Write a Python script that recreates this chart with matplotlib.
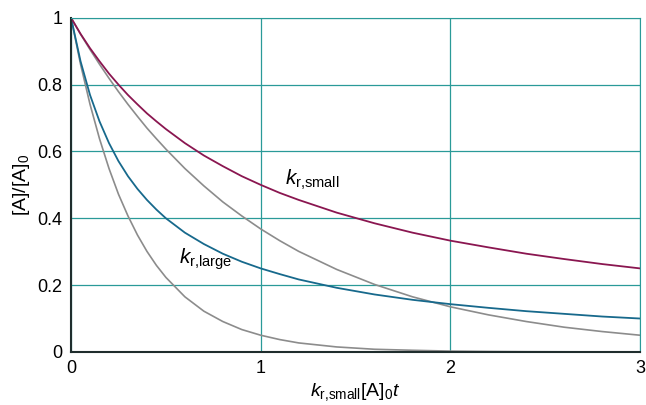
import matplotlib.pyplot as plt
import matplotlib as mpl

mpl.rcParams['font.family'] = ['Liberation Sans', 'DejaVu Sans']
mpl.rcParams['mathtext.fontset'] = 'custom'
mpl.rcParams['mathtext.rm'] = 'Liberation Sans'
mpl.rcParams['mathtext.it'] = 'Liberation Sans:italic'

# time axis (k_r,small [A]0 t)
t = [0, 0.05, 0.1, 0.15, 0.2, 0.25, 0.3, 0.35, 0.4, 0.45, 0.5, 0.6, 0.7, 0.8, 0.9, 1.0,
     1.1, 1.2, 1.4, 1.6, 1.8, 2.0, 2.2, 2.4, 2.6, 2.8, 3.0]
# second order, small k (purple)
a_small = [1, .952, .909, .870, .833, .800, .769, .741, .714, .690, .667, .625, .588, .556, .526, .500,
           .476, .455, .417, .385, .357, .333, .313, .294, .278, .263, .250]
# second order, large k (blue)
a_large = [1, .870, .769, .690, .625, .571, .526, .488, .455, .426, .400, .357, .323, .294, .270, .250,
           .233, .217, .192, .172, .156, .143, .132, .122, .114, .106, .100]
# first order comparison curves (grey)
g_slow = [1, .951, .905, .861, .819, .779, .741, .705, .670, .638, .607, .549, .497, .449, .407, .368,
          .333, .301, .247, .202, .165, .135, .111, .091, .074, .061, .050]
g_fast = [1, .861, .741, .638, .549, .472, .407, .350, .301, .259, .223, .165, .122, .091, .067, .050,
          .037, .027, .015, .008, .005, .0025, .0014, .0007, .0004, .0002, .0001]

xticks = [0, 1, 2, 3]
yticks = [0, 0.2, 0.4, 0.6, 0.8, 1]
ytick_labels = ['0', '0.2', '0.4', '0.6', '0.8', '1']

teal = '#2a9a98'
fig = plt.figure(figsize=(6.46, 4.05), dpi=100)
ax = fig.add_axes([0.110, 0.131, 0.881, 0.825])

ax.plot(t, g_slow, color='#8c8c8c', lw=1.2)
ax.plot(t, g_fast, color='#8c8c8c', lw=1.2)
ax.plot(t, a_large, color='#17698c', lw=1.3)
ax.plot(t, a_small, color='#8a1650', lw=1.3)

ax.set_xlim(0, 3)
ax.set_ylim(0, 1)
ax.set_xticks(xticks)
ax.set_yticks(yticks)
ax.set_yticklabels(ytick_labels)
ax.tick_params(length=0, labelsize=13, pad=6)
ax.grid(True, color=teal, lw=0.9)
ax.set_axisbelow(True)
for s in ['top', 'right']:
    ax.spines[s].set_color(teal)
for s in ['left', 'bottom']:
    ax.spines[s].set_color('#1f2d2d')
    ax.spines[s].set_linewidth(1.5)

ax.text(1.13, 0.50, r'$k_{\mathrm{r{,}small}}$', fontsize=15)
ax.text(0.57, 0.265, r'$k_{\mathrm{r{,}large}}$', fontsize=15)

ax.set_ylabel(r'$\mathrm{[A]/[A]_0}$', fontsize=14, labelpad=4)
ax.set_xlabel(r'$k_{\mathrm{r{,}small}}\mathrm{[A]_0}t$', fontsize=14, labelpad=3)

fig.savefig('out.png', dpi=100)
